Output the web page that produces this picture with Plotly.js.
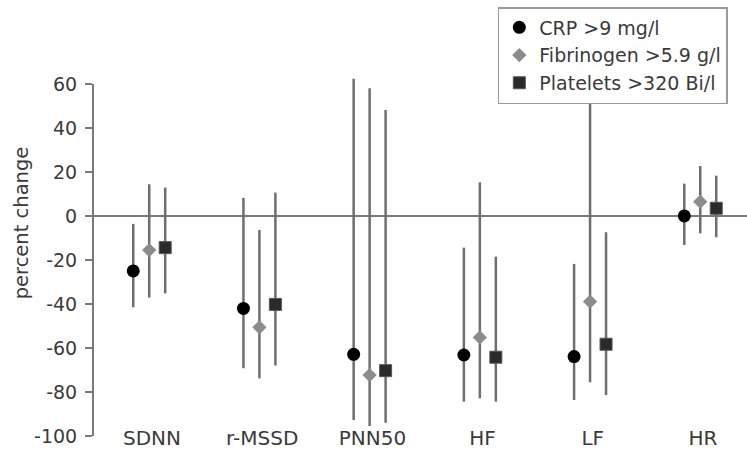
<!DOCTYPE html>
<html>
<head>
<meta charset="utf-8">
<script src="https://cdn.plot.ly/plotly-3.0.1.min.js"></script>
<style>
  html, body { margin: 0; padding: 0; background: #fff; }
  #chart { width: 747px; height: 455px; }
</style>
</head>
<body>
<div id="chart"></div>
<script>
// Categories and series (percent change with confidence limits)
var categories = ['SDNN', 'r-MSSD', 'PNN50', 'HF', 'LF', 'HR'];
var seriesNames = ['CRP >9 mg/l', 'Fibrinogen >5.9 g/l', 'Platelets >320 Bi/l'];

var crpValue = [-25, -42, -62.9, -63.2, -63.9, 0];
var crpUpper = [-3.6, 8.2, 62.3, -14.4, -21.8, 14.7];
var crpLower = [-41.5, -69.2, -92.7, -84.4, -83.6, -13.2];

var fibValue = [-15.5, -50.6, -72.3, -55.2, -38.9, 6.5];
var fibUpper = [14.4, -6.4, 58, 15.3, 53.5, 22.7];
var fibLower = [-37.1, -73.8, -95.5, -82.9, -75.6, -7.9];

var pltValue = [-14.4, -40.2, -70.3, -64.2, -58.3, 3.5];
var pltUpper = [12.9, 10.6, 48.2, -18.5, -7.4, 18.3];
var pltLower = [-35.2, -68, -94, -84.4, -81.4, -9.7];

var yTicks = [-100, -80, -60, -40, -20, 0, 20, 40, 60];
var yTickText = ['-100', '-80', '-60', '-40', '-20', '0', '20', '40', '60'];

var barColor = '#6e6e6e';
var font = 'DejaVu Sans, Verdana, sans-serif';
var textColor = '#3a3a3a';

function makeTrace(name, vals, up, lo, offset, marker) {
  return {
    type: 'scatter',
    mode: 'markers',
    name: name,
    x: categories.map(function (c, i) { return i + offset; }),
    y: vals,
    marker: marker,
    error_y: {
      type: 'data',
      symmetric: false,
      array: vals.map(function (v, i) { return up[i] - v; }),
      arrayminus: vals.map(function (v, i) { return v - lo[i]; }),
      color: barColor,
      thickness: 2.5,
      width: 0
    },
    cliponaxis: false
  };
}

var traces = [
  makeTrace(seriesNames[0], crpValue, crpUpper, crpLower, -0.17,
    { symbol: 'circle', size: 13, color: '#000000' }),
  makeTrace(seriesNames[1], fibValue, fibUpper, fibLower, -0.025,
    { symbol: 'diamond', size: 11, color: '#8c8c8c' }),
  makeTrace(seriesNames[2], pltValue, pltUpper, pltLower, 0.12,
    { symbol: 'square', size: 12, color: '#2a2a2a', line: { color: '#555', width: 1 } })
];

var layout = {
  width: 747,
  height: 455,
  margin: { l: 93, r: 0, t: 10, b: 19 },
  paper_bgcolor: '#ffffff',
  plot_bgcolor: '#ffffff',
  font: { family: font, size: 19, color: textColor },
  showlegend: true,
  legend: {
    x: 0.619, y: 1.007, xanchor: 'left', yanchor: 'top',
    bgcolor: '#ffffff', bordercolor: '#9a9a9a', borderwidth: 1.5,
    font: { family: font, size: 19, color: textColor },
    entrywidth: 200,
    tracegroupgap: 0
  },
  xaxis: {
    range: [-0.535, 5.399],
    tickvals: categories.map(function (c, i) { return i; }),
    ticktext: categories,
    showgrid: false,
    zeroline: false,
    showline: false,
    ticks: '',
    ticklabelstandoff: -12,
    tickfont: { family: font, size: 20, color: textColor },
    fixedrange: true
  },
  yaxis: {
    range: [-100, 93.6],
    tickvals: yTicks,
    ticktext: yTickText,
    showgrid: false,
    zeroline: true,
    zerolinecolor: '#7a7a7a',
    zerolinewidth: 2,
    showline: false,
    ticks: 'outside',
    ticklen: 7,
    tickwidth: 2,
    tickcolor: '#7a7a7a',
    ticklabelstandoff: 4,
    tickfont: { family: font, size: 19, color: textColor },
    title: { text: 'percent change', font: { family: font, size: 19.5, color: textColor }, standoff: 0 },
    fixedrange: true
  },
  shapes: [
    { type: 'line', xref: 'paper', yref: 'y', x0: 0, x1: 0, y0: -100, y1: 60,
      line: { color: '#7a7a7a', width: 2 } }
  ]
};

Plotly.newPlot('chart', traces, layout, { staticPlot: true, displayModeBar: false });
</script>
</body>
</html>
